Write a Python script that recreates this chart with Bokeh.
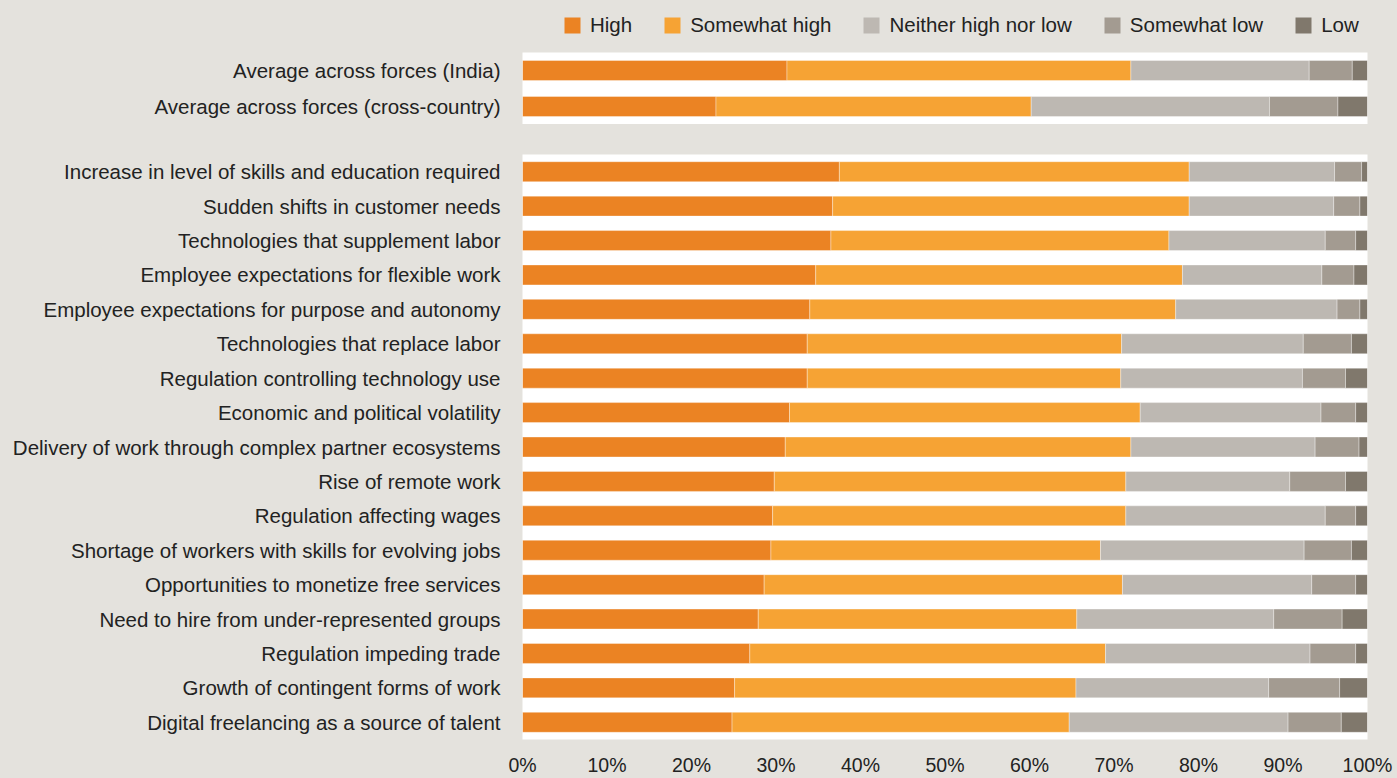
from bokeh.plotting import figure
from bokeh.models import (ColumnDataSource, FactorRange, Range1d, FixedTicker,
                          PrintfTickFormatter, Legend, LegendItem)
from bokeh.layouts import column
from bokeh.embed import file_html
from bokeh.resources import INLINE

# ---------------- data ----------------
levels = ["High", "Somewhat high", "Neither high nor low", "Somewhat low", "Low"]
colors = ["#EB8323", "#F6A334", "#BDB8B2", "#A39B91", "#80786C"]

avg_labels = ["Average across forces (India)", "Average across forces (cross-country)"]
avg_high = [31.3, 22.9]
avg_somewhat_high = [40.7, 37.3]
avg_neither = [21.1, 28.2]
avg_somewhat_low = [5.1, 8.1]
avg_low = [1.8, 3.5]

forces = [
    "Increase in level of skills and education required",
    "Sudden shifts in customer needs",
    "Technologies that supplement labor",
    "Employee expectations for flexible work",
    "Employee expectations for purpose and autonomy",
    "Technologies that replace labor",
    "Regulation controlling technology use",
    "Economic and political volatility",
    "Delivery of work through complex partner ecosystems",
    "Rise of remote work",
    "Regulation affecting wages",
    "Shortage of workers with skills for evolving jobs",
    "Opportunities to monetize free services",
    "Need to hire from under-represented groups",
    "Regulation impeding trade",
    "Growth of contingent forms of work",
    "Digital freelancing as a source of talent",
]
high = [37.5, 36.7, 36.5, 34.7, 34.0, 33.7, 33.7, 31.6, 31.1, 29.8, 29.6, 29.4, 28.6, 27.9, 26.9, 25.1, 24.8]
somewhat_high = [41.4, 42.2, 40.0, 43.4, 43.3, 37.2, 37.1, 41.5, 40.9, 41.6, 41.8, 39.0, 42.4, 37.7, 42.1, 40.4, 39.9]
neither = [17.2, 17.1, 18.5, 16.5, 19.1, 21.5, 21.5, 21.4, 21.8, 19.4, 23.6, 24.1, 22.4, 23.3, 24.2, 22.8, 25.9]
somewhat_low = [3.2, 3.1, 3.6, 3.8, 2.7, 5.7, 5.1, 4.1, 5.2, 6.6, 3.6, 5.6, 5.2, 8.1, 5.4, 8.4, 6.3]
low = [0.7, 0.9, 1.4, 1.6, 0.9, 1.9, 2.6, 1.4, 1.0, 2.6, 1.4, 1.9, 1.4, 3.0, 1.4, 3.3, 3.1]

tick_values = [0, 10, 20, 30, 40, 50, 60, 70, 80, 90, 100]

# ---------------- styling ----------------
BG = "#E4E2DD"
TXT = "#222222"
FONT = "Liberation Sans"
LBL_SIZE = "20.5px"
LEFT = 522
RIGHT = 30
W = 1397


def style(p):
    p.outline_line_color = None
    p.background_fill_color = "white"
    p.border_fill_color = BG
    p.xgrid.visible = False
    p.ygrid.visible = False
    ax = p.yaxis[0]
    ax.axis_line_color = None
    ax.major_tick_line_color = None
    ax.minor_tick_line_color = None
    ax.major_tick_out = 0
    ax.major_tick_in = 0
    ax.minor_tick_out = 0
    ax.minor_tick_in = 0
    ax.major_label_text_font = FONT
    ax.major_label_text_font_size = LBL_SIZE
    ax.major_label_text_color = TXT
    ax.major_label_standoff = 22


def make_source(cats, h, sh, n, sl, lo):
    return ColumnDataSource(dict(cat=cats, **{
        levels[0]: h, levels[1]: sh, levels[2]: n, levels[3]: sl, levels[4]: lo}))


src1 = make_source(avg_labels, avg_high, avg_somewhat_high, avg_neither, avg_somewhat_low, avg_low)
src2 = make_source(forces, high, somewhat_high, neither, somewhat_low, low)

# legend strip (zero-height bars outside the visible x range; only the legend shows)
p0 = figure(width=W, height=52, y_range=FactorRange(*list(reversed(avg_labels))),
            x_range=Range1d(200, 300),
            x_axis_location=None, y_axis_location=None,
            toolbar_location=None, output_backend="svg",
            min_border_left=LEFT, min_border_right=RIGHT, min_border_top=0, min_border_bottom=0)
p0.outline_line_color = None
p0.background_fill_color = BG
p0.border_fill_color = BG
p0.xgrid.visible = False
p0.ygrid.visible = False
rs0 = p0.hbar_stack(levels, y="cat", height=0, color=colors, source=src1, line_color=None)
lg = Legend(items=[LegendItem(label=lv, renderers=[r]) for lv, r in zip(levels, rs0)])
lg.orientation = "horizontal"
lg.location = (40, 15)
lg.background_fill_alpha = 0
lg.border_line_color = None
lg.padding = 0
lg.margin = 0
lg.spacing = 30
lg.glyph_width = 20
lg.glyph_height = 20
lg.label_standoff = 8
lg.label_text_font = FONT
lg.label_text_font_size = LBL_SIZE
lg.label_text_color = TXT
p0.add_layout(lg, "center")

# averages
p1 = figure(width=W, height=72, y_range=FactorRange(*list(reversed(avg_labels))),
            x_range=Range1d(0, 100), x_axis_location=None,
            toolbar_location=None, output_backend="svg",
            min_border_left=LEFT, min_border_right=RIGHT, min_border_top=0, min_border_bottom=0)
p1.hbar_stack(levels, y="cat", height=0.556, color=colors, source=src1,
              line_color="white", line_alpha=0.35, line_width=1)
style(p1)

# forces
p2 = figure(width=W, height=654, y_range=FactorRange(*list(reversed(forces))),
            x_range=Range1d(0, 100),
            toolbar_location=None, output_backend="svg",
            min_border_left=LEFT, min_border_right=RIGHT, min_border_top=30, min_border_bottom=38)
p2.hbar_stack(levels, y="cat", height=0.58, color=colors, source=src2,
              line_color="white", line_alpha=0.35, line_width=1)
style(p2)
xa = p2.xaxis[0]
xa.ticker = FixedTicker(ticks=tick_values)
xa.formatter = PrintfTickFormatter(format="%d%%")
xa.axis_line_color = None
xa.major_tick_line_color = None
xa.minor_tick_line_color = None
xa.major_tick_out = 0
xa.major_tick_in = 0
xa.minor_tick_out = 0
xa.minor_tick_in = 0
xa.major_label_text_font = FONT
xa.major_label_text_font_size = "19.5px"
xa.major_label_text_color = TXT
xa.major_label_standoff = 14

layout = column(p0, p1, p2, spacing=0)

html = file_html(layout, INLINE, title="Forces")
html = html.replace("<body>", '<body style="background-color:%s;">' % BG)
open("out.html", "w").write(html)
